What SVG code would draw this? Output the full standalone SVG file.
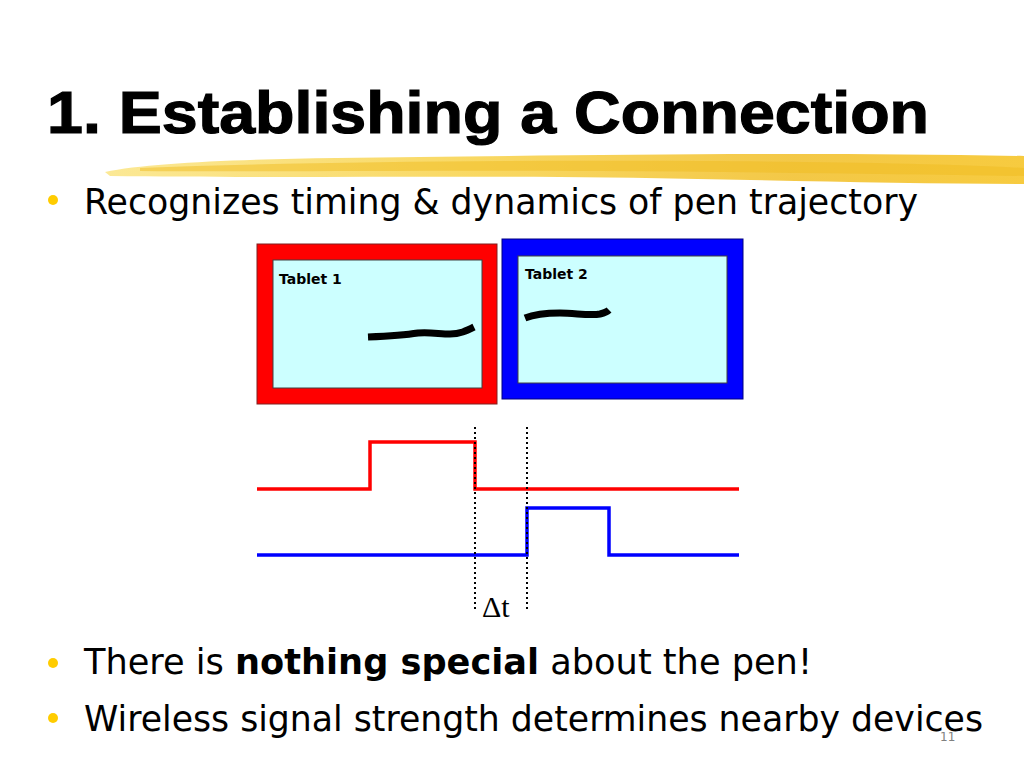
<svg xmlns="http://www.w3.org/2000/svg" width="1024" height="768" viewBox="0 0 1024 768">
<style>
.title{font-family:"Liberation Sans",Arial,sans-serif;font-weight:bold;font-size:59px;fill:#000;stroke:#000;stroke-width:1.2}
.bul{font-family:"DejaVu Sans","Noto Sans",sans-serif;font-size:36px;fill:#000}
.lbl{font-family:"DejaVu Sans",sans-serif;font-weight:bold;font-size:14px;fill:#000}
.dot{fill:#ffcc00}
.pen{fill:none;stroke:#000;stroke-width:7;stroke-linecap:butt;stroke-linejoin:round}
.wave{fill:none;stroke-width:3.5;stroke-linejoin:miter}
.guide{stroke:#000;stroke-width:2;stroke-dasharray:2 3}
</style>
<defs>
<linearGradient id="brush" x1="0" y1="0" x2="1" y2="0">
<stop offset="0" stop-color="#fbe68a"/>
<stop offset="0.4" stop-color="#f8d452"/>
<stop offset="0.75" stop-color="#f2c233"/>
<stop offset="1" stop-color="#f6c52a"/>
</linearGradient>
</defs>
<rect width="1024" height="768" fill="#fff"/>
<g id="title">
<text class="title" x="47" y="133" textLength="882" lengthAdjust="spacingAndGlyphs">1. Establishing a Connection</text>
<path d="M105,172 C160,160 300,158 420,157 C600,155 800,152 1024,156 L1024,184 C880,184 700,178 560,177 C420,176 250,178 110,176 Z" fill="url(#brush)" opacity="0.9"/>
<path d="M140,168 C300,162 500,160 700,161 C850,162 950,164 1024,168 L1024,176 C900,174 760,172 600,171 C420,170 260,172 140,171 Z" fill="#f0bc20" opacity="0.5"/>
</g>
<g id="bullet1">
<circle class="dot" cx="53" cy="200" r="5"/>
<text class="bul" x="84" y="214" textLength="834" lengthAdjust="spacingAndGlyphs">Recognizes timing &amp; dynamics of pen trajectory</text>
</g>
<g id="tablet1">
<rect x="257" y="244" width="240" height="160" fill="#ff0000" stroke="#802020" stroke-width="1"/>
<rect x="273" y="260" width="209" height="128" fill="#ccffff" stroke="#404040" stroke-width="1"/>
<text class="lbl" x="279" y="284">Tablet 1</text>
<path class="pen" d="M368,337 C390,336 405,335 418,333 C430,332 440,334 450,334 C460,334 466,331 474,327"/>
</g>
<g id="tablet2">
<rect x="502" y="239" width="241" height="160" fill="#0000ff" stroke="#000080" stroke-width="1"/>
<rect x="518" y="256" width="209" height="127" fill="#ccffff" stroke="#404040" stroke-width="1"/>
<text class="lbl" x="525" y="279">Tablet 2</text>
<path class="pen" d="M525,318 C535,314 548,313 560,313 C575,313 590,316 600,314 C604,313 607,312 609,310"/>
</g>
<g id="connectors">
<polyline class="wave" stroke="#ff0000" points="257,489 370,489 370,442 475,442 475,489 739,489"/>
<polyline class="wave" stroke="#0000ff" points="257,555 527,555 527,508 609,508 609,555 739,555"/>
<line class="guide" x1="475" y1="427" x2="475" y2="612"/>
<line class="guide" x1="527" y1="427" x2="527" y2="612"/>
</g>
<g id="delta">
<text x="482" y="617" font-family="Liberation Serif,serif" font-size="30" fill="#000">Δt</text>
</g>
<g id="bullet2">
<circle class="dot" cx="53" cy="663" r="5"/>
<text class="bul" x="84" y="674" textLength="728" lengthAdjust="spacingAndGlyphs">There is <tspan font-weight="bold">nothing special</tspan> about the pen!</text>
</g>
<g id="bullet3">
<circle class="dot" cx="53" cy="718" r="5"/>
<text class="bul" x="84" y="731" textLength="899" lengthAdjust="spacingAndGlyphs">Wireless signal strength determines nearby devices</text>
</g>
<text x="940" y="741" font-family="DejaVu Sans,sans-serif" font-size="12" fill="#808080">11</text>
</svg>
